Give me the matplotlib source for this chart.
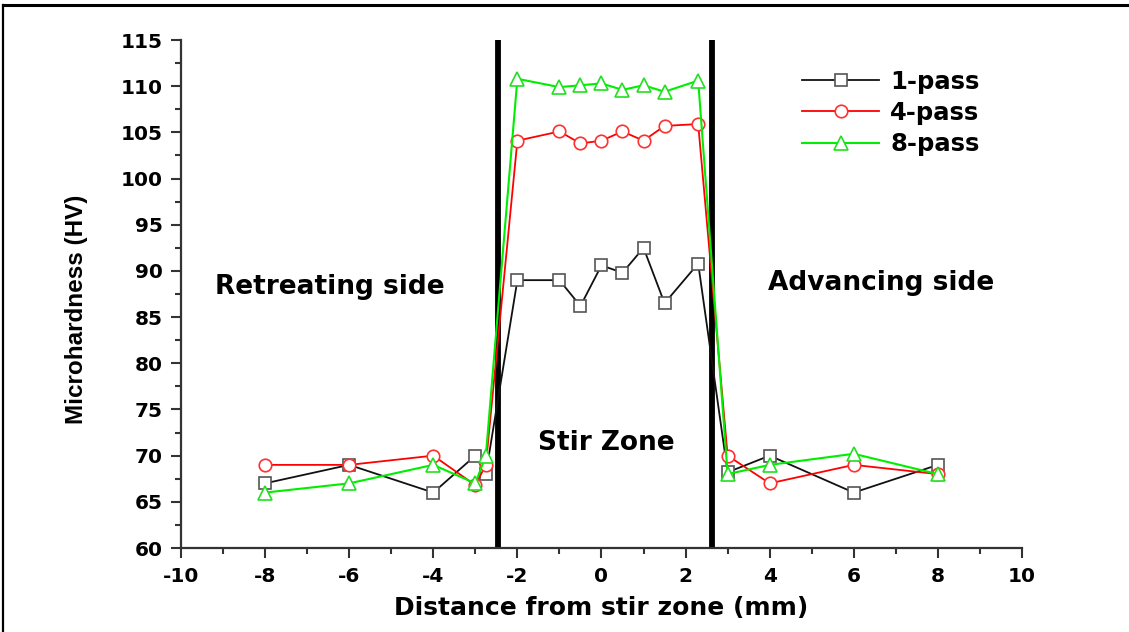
import numpy as np
import matplotlib.pyplot as plt
from matplotlib.lines import Line2D
from matplotlib.ticker import MultipleLocator

# valores
x_1pass = [-8, -6, -4, -3, -2.75, -2, -1, -0.5, 0, 0.5, 1, 1.5, 2.3, 3, 4, 6, 8]
hv_1pass = [67, 69, 66, 70, 68, 89, 89, 86.2, 90.6, 89.8, 92.5, 86.5, 90.8, 68.2, 70, 66, 69]

x_4pass = [-8, -6, -4, -3, -2.75, -2, -1, -0.5, 0, 0.5, 1, 1.5, 2.3, 3, 4, 6, 8]
hv_4pass = [69, 69, 70, 66.8, 69, 104.1, 105.1, 103.8, 104.1, 105.1, 104.1, 105.7, 105.9, 70, 67, 69, 68]

x_8pass = [-8, -6, -4, -3, -2.75, -2, -1, -0.5, 0, 0.5, 1, 1.5, 2.3, 3, 4, 6, 8]
hv_8pass = [66, 67, 69, 67, 70, 110.8, 109.9, 110.1, 110.3, 109.6, 110.1, 109.4, 110.6, 68, 69, 70.2, 68]

limites_zona = [-2.45, 2.64]

plt.rcParams['font.family'] = ['DejaVu Sans']
plt.rcParams['font.weight'] = 'bold'
plt.rcParams['axes.unicode_minus'] = False

fig = plt.figure(figsize=(11.29, 6.32), dpi=100)
ax = fig.add_axes([0.1603, 0.1329, 0.7449, 0.8038])

for xz in limites_zona:
    ax.axvline(xz, color='black', lw=4.2, zorder=1)

ax.plot(x_1pass, hv_1pass, color='#111111', lw=1.3, marker='s', ms=8.5,
        mfc='white', mec='#555555', mew=1.2, label='1-pass', zorder=3)
ax.plot(x_4pass, hv_4pass, color='red', lw=1.3, marker='o', ms=9,
        mfc='white', mec='#ff3030', mew=1.2, label='4-pass', zorder=3)
ax.plot(x_8pass, hv_8pass, color='#00ee00', lw=1.5, marker='^', ms=10,
        mfc='white', mec='#20e020', mew=1.2, label='8-pass', zorder=3)

ax.set_xlim(-10, 10)
ax.set_ylim(60, 115)
ax.xaxis.set_major_locator(MultipleLocator(2))
ax.xaxis.set_minor_locator(MultipleLocator(1))
ax.yaxis.set_major_locator(MultipleLocator(5))
ax.yaxis.set_minor_locator(MultipleLocator(2.5))

for lado in ['top', 'right']:
    ax.spines[lado].set_visible(False)
for lado in ['left', 'bottom']:
    ax.spines[lado].set_color('#333333')
    ax.spines[lado].set_linewidth(1.6)

ax.tick_params(which='major', direction='out', length=7, width=1.5,
               color='#333333', labelsize=14.5)
ax.tick_params(axis='y', which='major', pad=6)
ax.tick_params(axis='x', which='major', pad=7)
ax.tick_params(which='minor', direction='out', length=4, width=1.5, color='#333333')

ax.set_xlabel('Distance from stir zone (mm)', fontsize=18, fontweight='bold')
ax.set_ylabel('Microhardness (HV)', fontsize=17.5, fontweight='bold',
              family=['Liberation Sans', 'DejaVu Sans'])
ax.xaxis.set_label_coords(0.5, -0.094)
ax.yaxis.set_label_coords(-0.111, 0.469)

txt = dict(fontsize=19, fontweight='bold', ha='center', va='center')
ax.text(-6.47, 88.3, 'Retreating side', **txt)
ax.text(6.66, 88.7, 'Advancing side', **txt)
ax.text(0.12, 71.4, 'Stir Zone', **txt)

leg = ax.legend(loc='upper left', bbox_to_anchor=(0.712, 0.985), frameon=False,
                handlelength=3.2, labelspacing=0.3, handletextpad=0.45,
                prop={'weight': 'bold', 'size': 17.5})

# moldura da figura (so topo e esquerda)
fig.add_artist(Line2D([0.003, 1.0], [0.992, 0.992], color='black', lw=2.2, transform=fig.transFigure))
fig.add_artist(Line2D([0.003, 0.003], [0.0, 0.992], color='black', lw=1.6, transform=fig.transFigure))

fig.savefig('out.png', dpi=100, facecolor='white')
